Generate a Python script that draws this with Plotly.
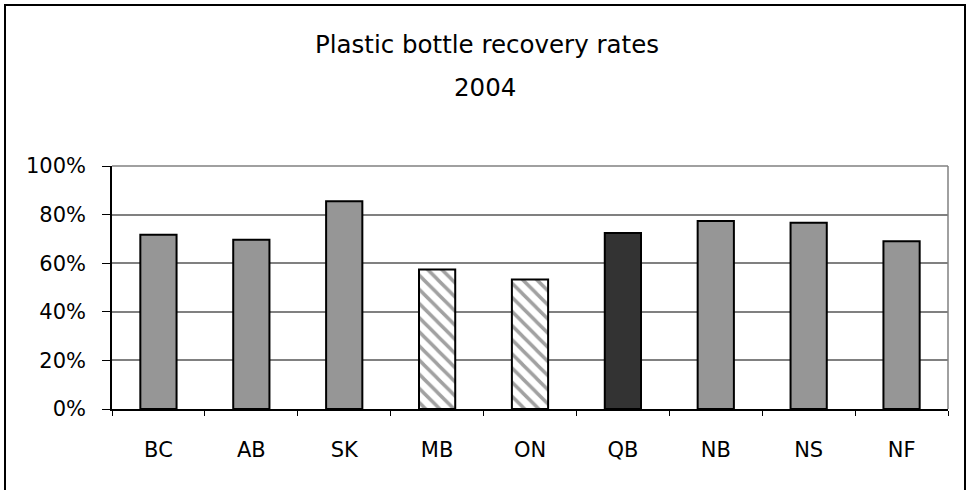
import plotly.graph_objects as go

categories = ["BC", "AB", "SK", "MB", "ON", "QB", "NB", "NS", "NF"]
rates = [0.717, 0.697, 0.855, 0.574, 0.533, 0.724, 0.774, 0.766, 0.69]
bar_colors = ["#969696", "#969696", "#969696", "#ffffff", "#ffffff",
              "#333333", "#969696", "#969696", "#969696"]
bar_patterns = ["", "", "", "\\", "\\", "", "", "", ""]
title_line1 = "Plastic bottle recovery rates"
title_line2 = "2004"

FONT = "DejaVu Sans"

fig = go.Figure(
    go.Bar(
        x=categories,
        y=rates,
        width=0.39,
        marker=dict(
            color=bar_colors,
            line=dict(color="#000000", width=2),
            pattern=dict(shape=bar_patterns, fgcolor="#a0a0a0", bgcolor="#ffffff",
                         size=10, solidity=0.35, fillmode="overlay"),
        ),
        hoverinfo="x+y",
    )
)

L, R, T, B = 112, 21, 166, 81
W, H = 969, 490
pw, ph = W - L - R, H - T - B

def px_x(v):
    return (v - L) / pw

def px_y(v):
    return (H - B - v) / ph

fig.update_layout(
    width=W, height=H,
    margin=dict(l=L, r=R, t=T, b=B, pad=0),
    paper_bgcolor="white", plot_bgcolor="white",
    showlegend=False,
    font=dict(family=FONT, size=21, color="#000000"),
    xaxis=dict(
        type="category", tickson="boundaries", ticks="outside", ticklen=5,
        tickcolor="#000000", tickwidth=1, showline=True, linecolor="#000000",
        linewidth=1.5, showgrid=False, tickfont=dict(size=21),
        ticklabelstandoff=21,
    ),
    yaxis=dict(
        range=[0, 1], dtick=0.2, tickformat=".0%", ticks="outside", ticklen=8,
        tickcolor="#000000", tickwidth=1, showline=True, linecolor="#000000",
        linewidth=1.5, showgrid=True, gridcolor="#808080", gridwidth=1.5,
        zeroline=False, tickfont=dict(size=21), ticklabelstandoff=12,
    ),
    annotations=[
        dict(text=title_line1, xref="paper", yref="paper", x=px_x(487), y=px_y(44),
             xanchor="center", yanchor="middle", showarrow=False,
             font=dict(size=24.5, family=FONT)),
        dict(text=title_line2, xref="paper", yref="paper", x=px_x(485), y=px_y(88),
             xanchor="center", yanchor="middle", showarrow=False,
             font=dict(size=24.5, family=FONT)),
    ],
    shapes=[
        dict(type="line", xref="paper", yref="paper", x0=1, x1=1, y0=0, y1=1,
             line=dict(color="#808080", width=1.5)),
        dict(type="line", xref="paper", yref="paper", x0=0, x1=1, y0=1, y1=1,
             line=dict(color="#808080", width=1.5)),
        dict(type="rect", xref="paper", yref="paper",
             x0=px_x(5), x1=px_x(965), y0=px_y(500), y1=px_y(5),
             line=dict(color="#000000", width=2), fillcolor="rgba(0,0,0,0)"),
    ],
)

fig.write_html("out.html")
